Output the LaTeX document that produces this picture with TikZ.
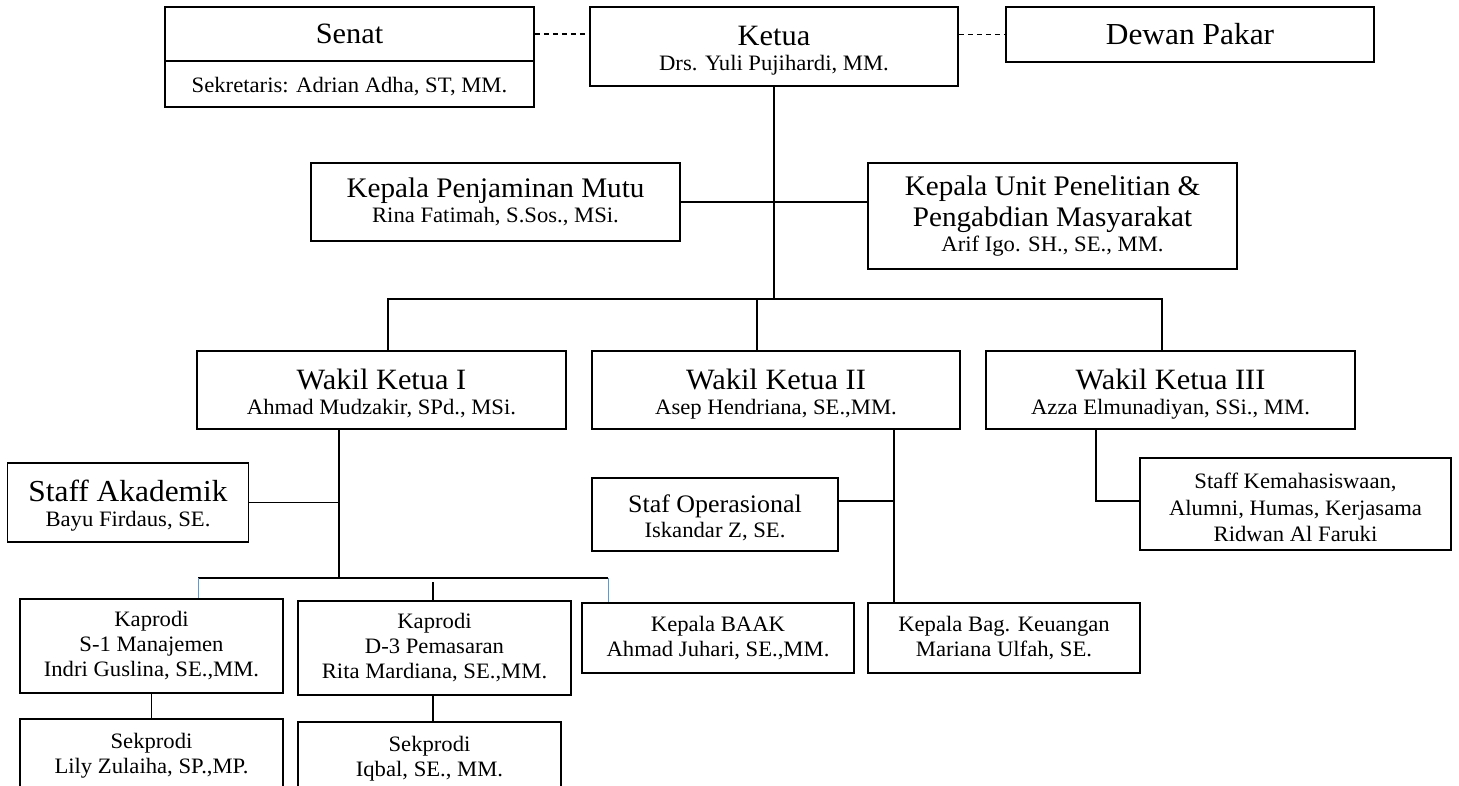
\documentclass[tikz,border=0pt]{standalone}
\usepackage{fontspec}
\setmainfont{Liberation Serif}[FakeStretch=1.03]
\definecolor{tickblue}{RGB}{91,155,213}
\newcommand\nm{\fontsize{22}{25}\selectfont}
% title line with an invisible strut that lowers the text block a little
\newcommand\ttl[2][29.5]{{\fontsize{#1}{30}\selectfont\rule{0pt}{\dimexpr 0.68em+8pt\relax}#2}}
\newcommand\ttlp[2][29.5]{{\fontsize{#1}{30}\selectfont #2}}
\newcommand\up[1][8pt]{\rule{0pt}{\dimexpr 15pt+#1\relax}}
\tikzset{
  box/.style={draw, line width=1.8pt, align=center, inner sep=0pt, font=\nm},
  link/.style={line width=1.2pt},
  dlink/.style={line width=1.4pt, dash pattern=on 5pt off 4pt},
  blink/.style={line width=1pt, draw=tickblue},
}
\begin{document}
\begin{tikzpicture}[x=1pt,y=-1pt]
\useasboundingbox (0,0) rectangle (1459,786);
\clip (0,0) rectangle (1459,786);
% top row
\node[box, minimum width=369pt, minimum height=54pt] (senat) at (349.5,34) {\ttlp{Senat}};
\node[box, minimum width=369pt, minimum height=46pt] (senatsek) at (349.5,84) {\up[5pt]Sekretaris: Adrian Adha, ST, MM.};
\node[box, minimum width=368pt, minimum height=79pt] (ketua) at (774,46.5) {\ttl{Ketua}\\Drs. Yuli Pujihardi, MM.};
\node[box, minimum width=368pt, minimum height=55pt] (dewan) at (1190,34.5) {\ttlp[30.5]{Dewan Pakar}};
% second row
\node[box, minimum width=369pt, minimum height=78pt] (kpm) at (495.5,202) {\ttlp[28.3]{Kepala Penjaminan Mutu}\\Rina Fatimah, S.Sos., MSi.};
\node[box, minimum width=369pt, minimum height=106pt] (ku) at (1052.5,216) {\ttlp[28.3]{Kepala Unit Penelitian \&}\\[5pt]\ttlp[28.3]{Pengabdian Masyarakat}\\Arif Igo. SH., SE., MM.};
% wakil row
\node[box, minimum width=369pt, minimum height=78pt] (w1) at (381.5,390) {\ttl{Wakil Ketua I}\\Ahmad Mudzakir, SPd., MSi.};
\node[box, minimum width=368pt, minimum height=78pt] (w2) at (776,390) {\ttl{Wakil Ketua II}\\Asep Hendriana, SE.,MM.};
\node[box, minimum width=369pt, minimum height=78pt] (w3) at (1170.5,390) {\ttl{Wakil Ketua III}\\Azza Elmunadiyan, SSi., MM.};
% staff row
\node[box, minimum width=241pt, minimum height=79pt] (staffak) at (128,502.5) {\ttl[30.5]{Staff Akademik}\\Bayu Firdaus, SE.};
\node[box, minimum width=246pt, minimum height=73pt] (stafop) at (715,514.5) {\ttl[25.2]{Staf Operasional}\\Iskandar Z, SE.};
\node[box, minimum width=311pt, minimum height=92pt, font=\fontsize{22}{26.5}\selectfont] (staffkem) at (1295.5,504) {\up Staff Kemahasiswaan,\\Alumni, Humas, Kerjasama\\Ridwan Al Faruki};
% lower rows
\node[box, minimum width=263pt, minimum height=94pt] (kap1) at (151.5,646) {Kaprodi\\S-1 Manajemen\\Indri Guslina, SE.,MM.};
\node[box, minimum width=273pt, minimum height=94pt] (kap3) at (434.5,648) {Kaprodi\\D-3 Pemasaran\\Rita Mardiana, SE.,MM.};
\node[box, minimum width=272pt, minimum height=70pt] (baak) at (718,638) {Kepala BAAK\\Ahmad Juhari, SE.,MM.};
\node[box, minimum width=272pt, minimum height=70pt] (keu) at (1004,638) {Kepala Bag. Keuangan\\Mariana Ulfah, SE.};
\node[box, minimum width=263pt, minimum height=74pt] (sek1) at (151.5,756) {Sekprodi\\Lily Zulaiha, SP.,MP.};
\node[box, minimum width=263pt, minimum height=74pt] (sek3) at (429.5,759) {Sekprodi\\Iqbal, SE., MM.};
% connectors
\draw[dlink] (senat.east) -- (senat.east -| ketua.west);
\draw[dlink] (dewan.west -| ketua.east) -- (dewan.west);
\coordinate (b1) at (388,299);
\coordinate (b2) at (757,299);
\coordinate (b3) at (1162,299);
\draw[link] (ketua.south) -- (ketua.south |- b1);
\draw[link] (kpm.east) -- (kpm.east -| ku.west);
\draw[link] (b1 |- w1.north) -- (b1) -- (b3) -- (b3 |- w3.north);
\draw[link] (b2) -- (b2 |- w2.north);
\coordinate (v1) at (339,578);
\draw[link] (v1 |- w1.south) -- (v1);
\draw[link] (staffak.east) -- (staffak.east -| v1);
\coordinate (c1) at (198,578);
\coordinate (c3) at (608,578);
\draw[link] (c1) -- (c3);
\draw[blink] (c1) -- (c1 |- kap1.north);
\draw[blink] (c3) -- (c3 |- baak.north);
\coordinate (t2) at (433,582);
\draw[link] (t2) -- (t2 |- kap3.north);
\draw[link] (t2 |- kap3.south) -- (t2 |- sek3.north);
\draw[link] (kap1.south) -- (kap1.south |- sek1.north);
\coordinate (j2) at (894,501);
\draw[link] (j2 |- w2.south) -- (j2 |- keu.north);
\draw[link] (stafop.east |- j2) -- (j2);
\coordinate (j3) at (1096,501);
\draw[link] (j3 |- w3.south) -- (j3) -- (j3 -| staffkem.west);
\end{tikzpicture}
\end{document}
